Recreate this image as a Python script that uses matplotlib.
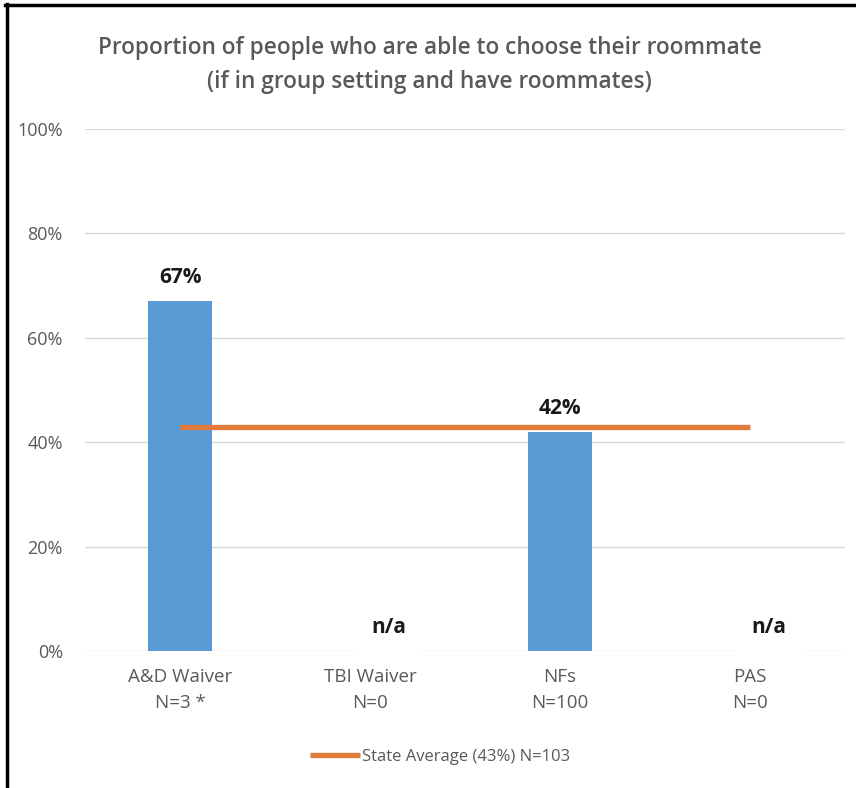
import matplotlib.pyplot as plt
from matplotlib.lines import Line2D

programs = ['A&D Waiver\nN=3 *', 'TBI Waiver\nN=0', 'NFs\nN=100', 'PAS\nN=0']
share = [0.67, None, 0.42, None]
state_avg = 0.43
state_label = 'State Average (43%) N=103'

plt.rcParams['font.family'] = ['Open Sans', 'DejaVu Sans']

fig = plt.figure(figsize=(8.56, 7.88), dpi=100)
ax = fig.add_axes([85 / 856, 1 - 651 / 788, 760 / 856, 522 / 788])

x = list(range(len(programs)))
heights = [v if v is not None else 0 for v in share]
ax.bar(x, heights, width=0.34, color='#5B9BD5', zorder=2)

# state average line across all programs
ax.plot([x[0], x[-1]], [state_avg, state_avg], color='#E07B39', lw=3.8,
        solid_capstyle='butt', zorder=3, label=state_label)

for xi, v in zip(x, share):
    if v is None:
        ax.text(xi + 0.1, 0.045, 'n/a', ha='center', va='center', fontsize=15,
                fontweight='bold', color='#1a1a1a', zorder=4,
                bbox=dict(facecolor='white', edgecolor='none', pad=11))
    else:
        ax.text(xi, v + 0.025, f'{v:.0%}', ha='center', va='bottom', fontsize=15,
                fontweight='bold', color='#1a1a1a', zorder=4)

ax.set_xlim(-0.5, 3.5)
ax.set_ylim(0, 1)
ax.set_yticks([0, 0.2, 0.4, 0.6, 0.8, 1.0])
ax.set_yticklabels(['0%', '20%', '40%', '60%', '80%', '100%'])
ax.set_xticks(x)
ax.set_xticklabels(programs, linespacing=1.6)
ax.tick_params(length=0, labelsize=13.5, colors='#595959', pad=12)
ax.tick_params(axis='y', labelsize=13, pad=16)
ax.grid(axis='y', color='#d9d9d9', lw=1, zorder=0)
for s in ax.spines.values():
    s.set_visible(False)

fig.text(0.502, 1 - 48 / 788, 'Proportion of people who are able to choose their roommate',
         ha='center', va='center', fontsize=16.3, fontweight='semibold', color='#595959')
fig.text(0.502, 1 - 82 / 788, '(if in group setting and have roommates)',
         ha='center', va='center', fontsize=16.3, fontweight='semibold', color='#595959')

fig.legend(loc='center', bbox_to_anchor=(440 / 856, 1 - 757 / 788), frameon=False,
           fontsize=12, labelcolor='#595959', handlelength=3, handletextpad=0.1)

# frame edges on the left and top
fig.add_artist(Line2D([6.5 / 856, 6.5 / 856], [0, 1 - 4 / 788], color='black', lw=2.5))
fig.add_artist(Line2D([5 / 856, 1], [1 - 4.5 / 788, 1 - 4.5 / 788], color='black', lw=2.5))

fig.savefig('out.png', dpi=100)
